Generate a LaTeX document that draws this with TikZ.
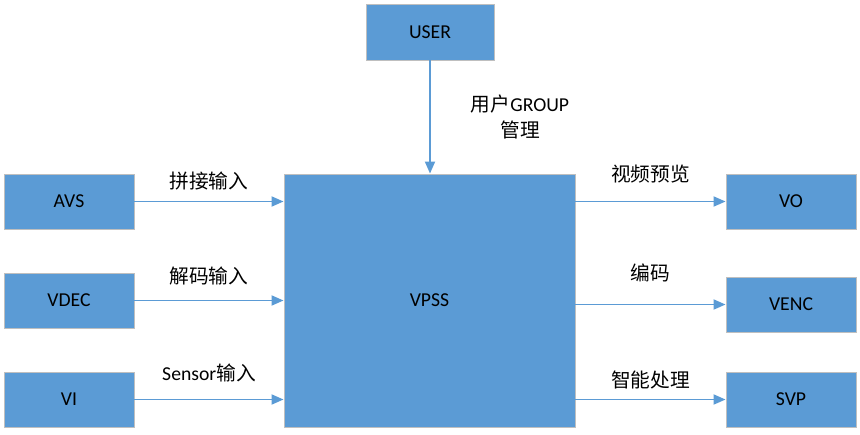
\documentclass[tikz,border=0pt]{standalone}
\usepackage{fontspec}
\setmainfont{Carlito}
\newfontfamily\cjk{Noto Sans CJK SC}
\usetikzlibrary{arrows.meta}
\definecolor{boxblue}{HTML}{5B9BD5}
\definecolor{boxline}{HTML}{BFBFBF}
\tikzset{
  module/.style={draw=boxline,line width=0.6pt,fill=boxblue,minimum width=3.25cm,minimum height=1.375cm,inner sep=0pt,font=\fontsize{14}{17}\selectfont},
  flow/.style={draw=boxblue,line width=1.3pt,-{Triangle[length=0.3cm,width=0.25cm]}},
  tag/.style={font=\fontsize{14}{18.5}\selectfont,inner sep=0pt,align=center}
}
\begin{document}
\begin{tikzpicture}[x=0.025cm,y=-0.025cm]
		\useasboundingbox (0,0) rectangle (860,434);
		\node[module,minimum width=3.2cm,minimum height=1.4cm] (user) at (430,32) {USER};
		\node[module,minimum width=7.275cm,minimum height=6.325cm] (vpss) at (429.5,300.5) {VPSS};
		\foreach \name/\txt/\y in {avs/AVS/201.5,vdec/VDEC/300.5,vi/VI/399.5}{\node[module] (\name) at (69,\y) {\txt};}
		\foreach \name/\txt/\y in {vo/VO/201.5,venc/VENC/304.5,svp/SVP/399.5}{\node[module] (\name) at (791,\y) {\txt};}
		\draw[flow] (user.south) -- (user.south |- vpss.north) node[tag,midway,xshift=2.25cm] {{\cjk 用户}GROUP\\{\cjk 管理}};
		\foreach \src/\txt/\dy in {avs/{\cjk 拼接输入}/0.5cm,vdec/{\cjk 解码输入}/0.6cm,vi/Sensor{\cjk 输入}/0.675cm}{\draw[flow] (\src.east) -- (\src.east -| vpss.west) node[tag,midway,yshift=\dy] {\txt};}
		\foreach \dst/\txt/\dy in {vo/{\cjk 视频预览}/0.675cm,venc/{\cjk 编码}/0.8cm,svp/{\cjk 智能处理}/0.5cm}{\draw[flow] (vpss.east |- \dst.west) -- (\dst.west) node[tag,midway,yshift=\dy] {\txt};}
\end{tikzpicture}
\end{document}
